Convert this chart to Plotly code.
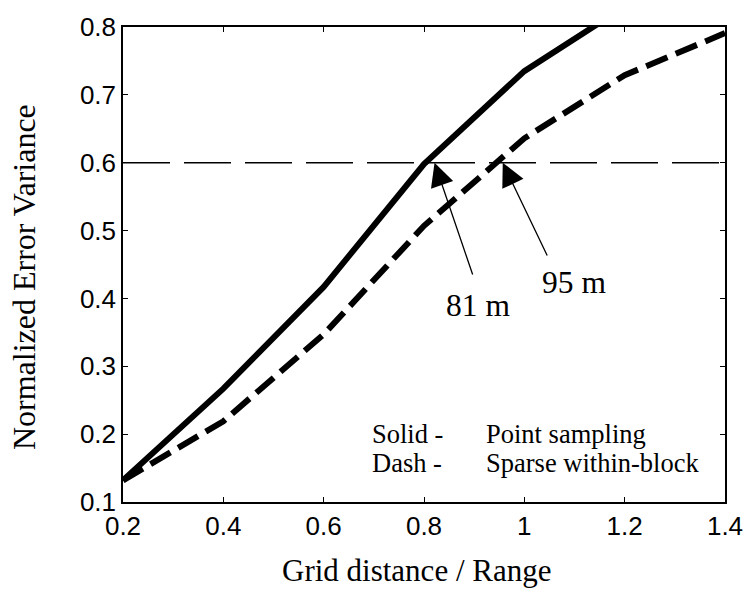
import plotly.graph_objects as go

# Data
grid_ratio = [0.2, 0.4, 0.6, 0.8, 1.0, 1.2, 1.4]
point_sampling = [0.132, 0.267, 0.417, 0.598, 0.735, 0.83]
sparse_within_block = [0.132, 0.219, 0.347, 0.507, 0.636, 0.729, 0.791]
threshold = 0.6
x_ticks = [0.2, 0.4, 0.6, 0.8, 1.0, 1.2, 1.4]
x_tick_text = ["0.2", "0.4", "0.6", "0.8", "1", "1.2", "1.4"]
y_ticks = [0.1, 0.2, 0.3, 0.4, 0.5, 0.6, 0.7, 0.8]
y_tick_text = ["0.1", "0.2", "0.3", "0.4", "0.5", "0.6", "0.7", "0.8"]
x_title = "Grid distance / Range"
y_title = "Normalized Error Variance"

# annotation anchors (data coords)
arrow81_head = (0.821, 0.6)
arrow81_tail = (0.898, 0.433)
arrow95_head = (0.957, 0.6)
arrow95_tail = (1.047, 0.461)
label81 = (0.907, 0.39, "81 m")
label95 = (1.098, 0.423, "95 m")
legend_rows = [("Solid -", "Point sampling", 0.2), ("Dash -", "Sparse within-block", 0.157)]
legend_x1, legend_x2 = 0.693, 0.919

serif = "Liberation Serif, Times New Roman, serif"
sans = "Liberation Sans, Arial, sans-serif"

fig = go.Figure()
fig.add_trace(go.Scatter(x=[grid_ratio[0], grid_ratio[-1]], y=[threshold, threshold], mode="lines",
                         line=dict(color="black", width=1.5, dash="47px,14px"), showlegend=False))
fig.add_trace(go.Scatter(x=grid_ratio[:len(point_sampling)], y=point_sampling, mode="lines",
                         line=dict(color="black", width=6), showlegend=False))
fig.add_trace(go.Scatter(x=grid_ratio, y=sparse_within_block, mode="lines",
                         line=dict(color="black", width=6, dash="23px,9px"), showlegend=False))

annotations = []
for head, tail in [(arrow81_head, arrow81_tail), (arrow95_head, arrow95_tail)]:
    annotations.append(dict(x=head[0], y=head[1], ax=tail[0], ay=tail[1], xref="x", yref="y",
                            axref="x", ayref="y", text="", showarrow=True, arrowhead=2,
                            arrowsize=3.6, arrowwidth=1.3, arrowcolor="black"))
for lx, ly, lt in [label81, label95]:
    annotations.append(dict(x=lx, y=ly, xref="x", yref="y", text=lt, showarrow=False,
                            font=dict(family=serif, size=31.5, color="black")))
for a, b, yy in legend_rows:
    annotations.append(dict(x=legend_x1, y=yy, xref="x", yref="y", text=a, showarrow=False,
                            xanchor="left", yanchor="middle", font=dict(family=serif, size=26.5, color="black")))
    annotations.append(dict(x=legend_x2, y=yy, xref="x", yref="y", text=b, showarrow=False,
                            xanchor="left", yanchor="middle", font=dict(family=serif, size=26.5, color="black")))
# axis titles
annotations.append(dict(x=-0.164, y=0.474, xref="paper", yref="paper", text=y_title, textangle=-90,
                        showarrow=False, xanchor="center", yanchor="middle",
                        font=dict(family=serif, size=32, color="black")))
annotations.append(dict(x=0.487, y=-0.145, xref="paper", yref="paper", text=x_title,
                        showarrow=False, xanchor="center", yanchor="middle",
                        font=dict(family=serif, size=31, color="black")))

fig.update_layout(
    width=755, height=596,
    margin=dict(l=123, r=23, t=19, b=94),
    paper_bgcolor="white", plot_bgcolor="white",
    annotations=annotations,
    xaxis=dict(range=[0.2, 1.4], tickvals=x_ticks, ticktext=x_tick_text, ticks="inside", ticklen=5,
               tickcolor="black", showline=True, linecolor="black", linewidth=1.5, mirror="ticks",
               showgrid=False, zeroline=False, tickfont=dict(family=sans, size=26, color="black")),
    yaxis=dict(range=[0.1, 0.8], tickvals=y_ticks, ticktext=y_tick_text, ticks="inside", ticklen=5,
               tickcolor="black", showline=True, linecolor="black", linewidth=1.5, mirror="ticks",
               showgrid=False, zeroline=False, tickfont=dict(family=sans, size=26, color="black")),
)
fig.write_html("out.html")
